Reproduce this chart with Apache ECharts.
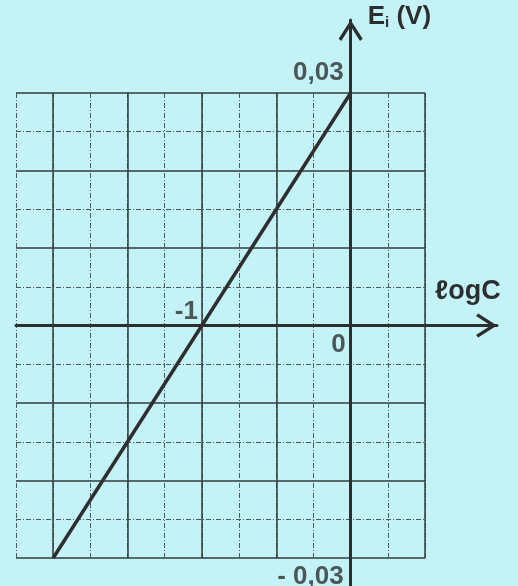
<!DOCTYPE html>
<html>
<head>
<meta charset="utf-8">
<script src="https://cdn.jsdelivr.net/npm/echarts@6/dist/echarts.min.js"></script>
<style>
  html, body { margin: 0; padding: 0; background: #c4f3f7; }
  #chart { width: 518px; height: 586px; }
</style>
</head>
<body>
<div id="chart"></div>
<script>
// Calibration line E_i = f(logC)
const logC = [-2, 0];
const Ei = [-0.03, 0.03];

// Plot window
const xRange = [-2.25, 0.5];
const yRange = [-0.03, 0.03];
const xStep = 0.25;
const yStep = 0.01;

// Heavier vertical rules on half-units of logC
const heavyX = [-2, -1.5, -1, -0.5, 0.5];

// Values written next to the axes
const tickPoints = [[0, 0.03], [0, -0.03], [0, 0], [-1, 0]];
const tickTexts = ['0,03', '- 0,03', '0', '-1'];

// Arrowed axes reach past the ruled area
const axisExtentX = [-2.25, 0.984];
const axisExtentY = [-0.0336, 0.0394];

const ink = '#2e2e2e';
const font = "'Liberation Sans', Arial, 'DejaVu Sans', sans-serif";
const chevron = 'path://M50,0 L100,78 L89,87 L50,26 L11,87 L0,78 Z';

const labelOffsets = [[-7, -20], [-7, 19], [-5, 19], [-4, -14]];

const chart = echarts.init(document.getElementById('chart'), null, { renderer: 'canvas' });

chart.setOption({
  backgroundColor: '#c4f3f7',
  animation: false,
  grid: [
    { left: 16, right: 93, top: 93, bottom: 28 },
    { left: 16, right: 21, top: 20, bottom: 0 }
  ],
  xAxis: [
    {
      gridIndex: 0, type: 'value', min: xRange[0], max: xRange[1], interval: xStep,
      axisLine: { show: false }, axisTick: { show: false }, axisLabel: { show: false },
      splitLine: { show: true, lineStyle: { color: '#4a5a5a', width: 1, type: [5, 2, 1, 2] } }
    },
    {
      gridIndex: 1, type: 'value', min: axisExtentX[0], max: axisExtentX[1],
      axisLine: {
        show: true, onZero: true,
        lineStyle: { color: ink, width: 3 },
        symbol: ['none', chevron], symbolSize: [25, 21], symbolOffset: [0, -10.5]
      },
      axisTick: { show: false }, axisLabel: { show: false }, splitLine: { show: false },
      name: '\u2113ogC', nameLocation: 'end', nameGap: -62,
      nameTextStyle: {
        fontFamily: font, fontWeight: 'bold', fontSize: 27, color: ink,
        align: 'left', verticalAlign: 'bottom', padding: [0, 0, 20, 0]
      }
    }
  ],
  yAxis: [
    {
      gridIndex: 0, type: 'value', min: yRange[0], max: yRange[1], interval: yStep,
      axisLine: { show: false }, axisTick: { show: false }, axisLabel: { show: false },
      splitLine: { show: true, lineStyle: { color: '#333d3d', width: 1.5 } },
      minorTick: { show: false, splitNumber: 2 },
      minorSplitLine: { show: true, lineStyle: { color: '#4a5a5a', width: 1, type: [5, 2, 1, 2] } }
    },
    {
      gridIndex: 1, type: 'value', min: axisExtentY[0], max: axisExtentY[1],
      axisLine: {
        show: true, onZero: true,
        lineStyle: { color: ink, width: 3 },
        symbol: ['none', chevron], symbolSize: [24, 21], symbolOffset: [0, -10.5]
      },
      axisTick: { show: false }, axisLabel: { show: false }, splitLine: { show: false },
      name: 'E{s|i} (V)', nameLocation: 'end', nameGap: 17,
      nameTextStyle: {
        fontFamily: font, fontWeight: 'bold', fontSize: 26, color: ink,
        align: 'left', verticalAlign: 'top', padding: [0, 0, 0, 17],
        rich: {
          s: { fontFamily: font, fontWeight: 'bold', fontSize: 15, color: ink, padding: [12, 0, 0, 0] }
        }
      }
    }
  ],
  series: [
    {
      type: 'line',
      xAxisIndex: 0, yAxisIndex: 0,
      data: logC.map((x, i) => [x, Ei[i]]),
      symbol: 'none',
      lineStyle: { color: ink, width: 3.5 },
      z: 5,
      markLine: {
        silent: true,
        symbol: ['none', 'none'],
        label: { show: false },
        lineStyle: { color: '#333d3d', width: 1.5, type: 'solid' },
        data: heavyX.map(v => ({ xAxis: v }))
      }
    },
    {
      type: 'scatter',
      xAxisIndex: 0, yAxisIndex: 0,
      symbolSize: 0,
      z: 6,
      data: tickPoints.map((p, i) => ({
        value: p,
        label: {
          show: true,
          formatter: tickTexts[i],
          position: labelOffsets[i],
          align: 'right',
          verticalAlign: 'middle',
          fontFamily: font, fontWeight: 'bold', fontSize: 26, color: ink
        }
      }))
    }
  ]
});
</script>
</body>
</html>
